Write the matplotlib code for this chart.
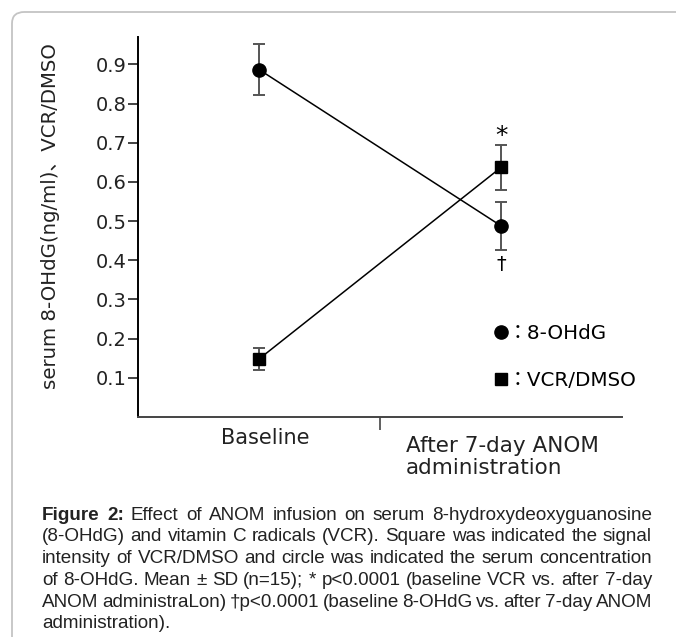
import matplotlib
matplotlib.use("Agg")
import matplotlib.pyplot as plt
from matplotlib.patches import FancyBboxPatch
from matplotlib.lines import Line2D

# data
x_pos = [0.25, 0.75]
group_labels = ["Baseline", "After 7-day ANOM\nadministration"]
ohdg_mean = [0.887, 0.488]
ohdg_sd = [0.066, 0.061]
vcr_mean = [0.148, 0.637]
vcr_sd = [0.027, 0.058]
yticks = [0.1, 0.2, 0.3, 0.4, 0.5, 0.6, 0.7, 0.8, 0.9]

caption = [
    "Figure 2: Effect of ANOM infusion on serum 8-hydroxydeoxyguanosine",
    "(8-OHdG) and vitamin C radicals (VCR). Square was indicated the signal",
    "intensity of VCR/DMSO and circle was indicated the serum concentration",
    "of 8-OHdG. Mean ± SD (n=15); * p<0.0001 (baseline VCR vs. after 7-day",
    "ANOM administraLon) †p<0.0001 (baseline 8-OHdG vs. after 7-day ANOM",
    "administration).",
]

CH = ["DejaVu Sans", "Noto Sans CJK JP"]
CAP = ["Liberation Sans", "DejaVu Sans"]

W, H = 676, 637
fig = plt.figure(figsize=(W / 100, H / 100), dpi=100)

# frame around the figure panel
frame = FancyBboxPatch((12 / W, -0.1), 1.2, 1.1 - 12 / H,
                       boxstyle="round,pad=0,rounding_size=0.018",
                       transform=fig.transFigure, fill=False,
                       edgecolor="#c4c4c4", linewidth=1.3, clip_on=False)
fig.patches.append(frame)

ax = fig.add_axes([138 / W, 1 - 417 / H, 484 / W, 380 / H])

ax.errorbar(x_pos, ohdg_mean, yerr=ohdg_sd, color="black", marker="o",
            markersize=9.5, linewidth=1.1, ecolor="#555555", elinewidth=1.4,
            capsize=4.5, capthick=1.4, zorder=3)
ax.errorbar(x_pos, vcr_mean, yerr=vcr_sd, color="black", marker="s",
            markersize=9, linewidth=1.1, ecolor="#555555", elinewidth=1.4,
            capsize=4.5, capthick=1.4, zorder=3)

ax.set_xlim(0, 1)
ax.set_ylim(0, 0.97)
ax.set_yticks(yticks)
ax.set_yticklabels(["%.1f" % v for v in yticks], fontfamily=CH, fontsize=14)
ax.set_xticks([0.5])
ax.set_xticklabels([""])
ax.tick_params(axis="y", length=7, width=1.2, pad=1, colors="#222222")
ax.tick_params(axis="x", length=9, width=1.2, colors="#444444")
ax.spines["top"].set_visible(False)
ax.spines["right"].set_visible(False)
ax.spines["left"].set_linewidth(1.4)
ax.spines["bottom"].set_linewidth(1.4)
ax.spines["bottom"].set_color("#444444")

ax.text(-0.18, 0.53, "serum 8-OHdG(ng/ml)、VCR/DMSO", transform=ax.transAxes,
        rotation=90, ha="center", va="center", fontfamily=CH, fontsize=14.2,
        color="#222222")

xt = ax.get_xaxis_transform()
ax.text(0.262, -0.028, group_labels[0], transform=xt, ha="center", va="top",
        fontfamily=CH, fontsize=15, color="#222222")
ax.text(0.554, -0.05, group_labels[1], transform=xt, ha="left", va="top",
        fontfamily=CH, fontsize=15.5, color="#222222", linespacing=1.15)

# significance marks
ax.annotate("*", (x_pos[1], vcr_mean[1] + vcr_sd[1]), xytext=(0, 1),
            textcoords="offset points", ha="center", va="baseline",
            fontfamily=CH, fontsize=18)
ax.annotate("†", (x_pos[1], ohdg_mean[1] - ohdg_sd[1]), xytext=(0, -4),
            textcoords="offset points", ha="center", va="top",
            fontfamily=CH, fontsize=14)

handles = [Line2D([], [], color="black", marker="o", markersize=9.5, linestyle="none"),
           Line2D([], [], color="black", marker="s", markersize=9, linestyle="none")]
ax.legend(handles, ["：8-OHdG", "：VCR/DMSO"], loc="upper left",
          bbox_to_anchor=(0.722, 0.265), frameon=False, handlelength=0.6,
          handletextpad=0.0, labelspacing=1.4, borderaxespad=0,
          prop={"family": CH, "size": 14.3})

# justified caption
renderer = fig.canvas.get_renderer()
left, right = 42, 652
for i, line in enumerate(caption):
    words = line.split(" ")
    ypx = 515 + i * 21.8
    objs = []
    for j, w in enumerate(words):
        weight = "bold" if (i == 0 and j < 2) else "normal"
        t = fig.text(0, 1 - ypx / H, w, ha="left", va="center",
                     fontfamily=CAP, fontsize=13.6, fontweight=weight,
                     color="#222222")
        objs.append(t)
    widths = [t.get_window_extent(renderer).width for t in objs]
    if i < len(caption) - 1:
        gap = (right - left - sum(widths)) / (len(words) - 1)
    else:
        gap = 4.0
    x = left
    for t, w in zip(objs, widths):
        t.set_x(x / W)
        x += w + gap

fig.savefig("out.png", dpi=100)
